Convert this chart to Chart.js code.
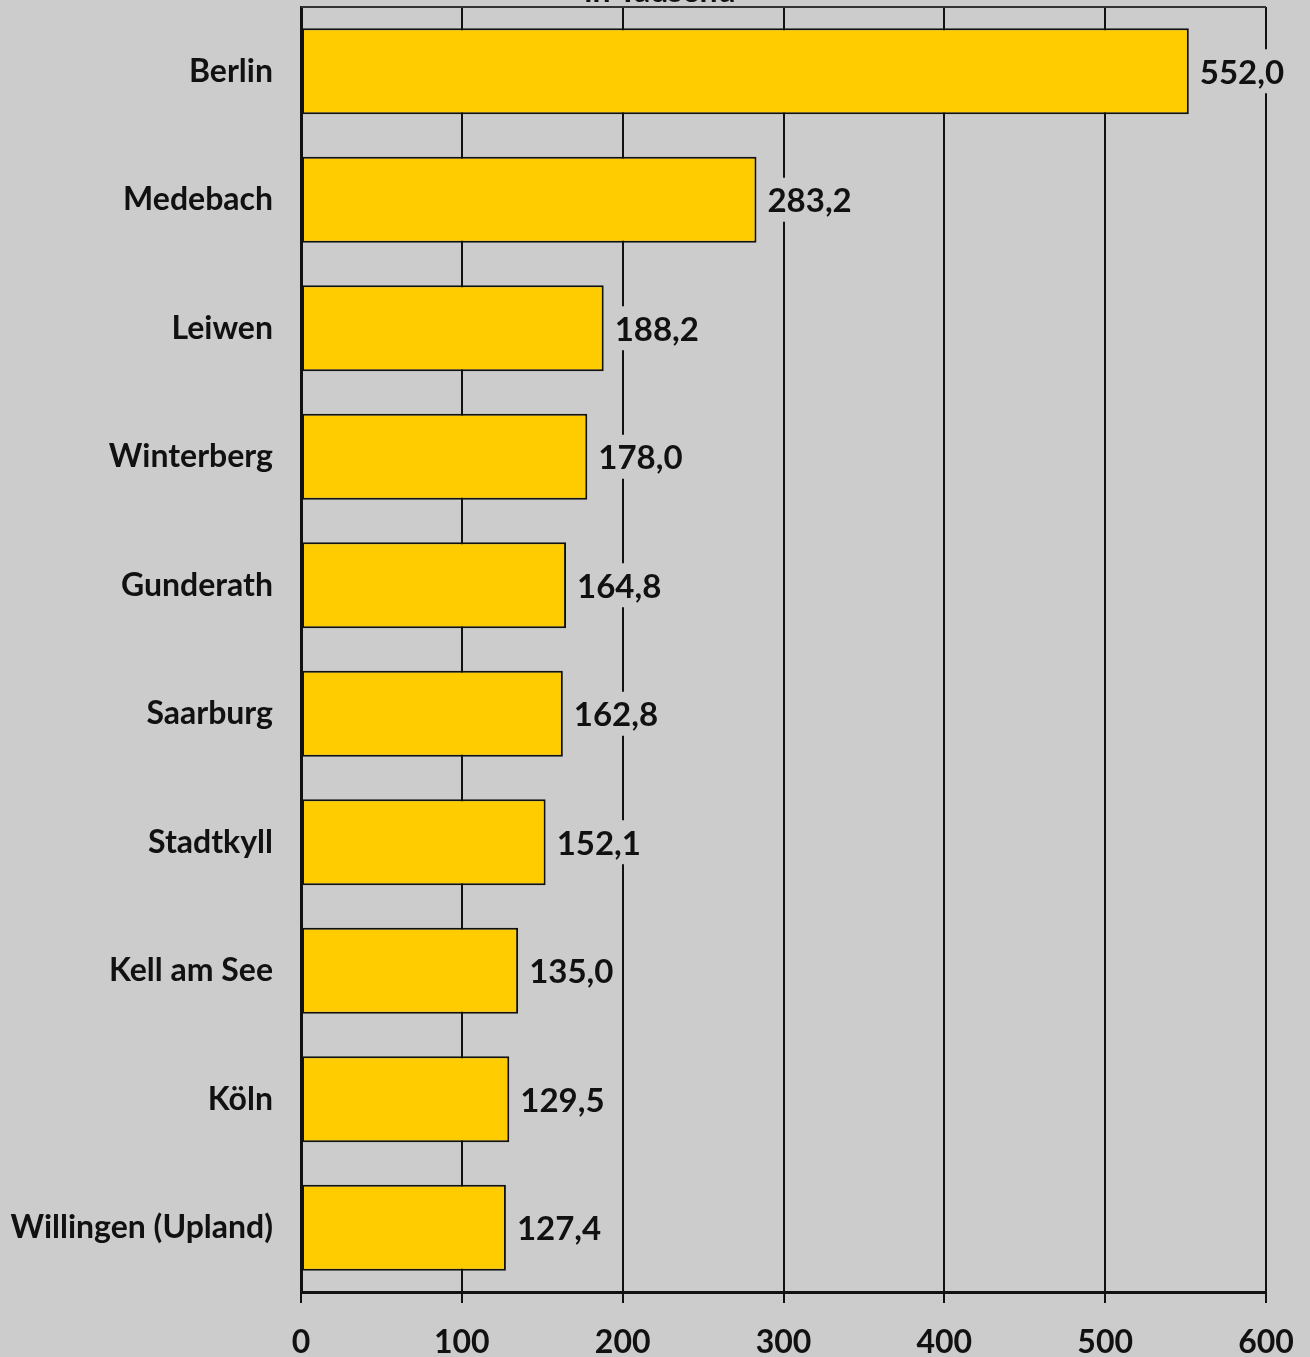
<!DOCTYPE html>
<html>
<head>
<meta charset="utf-8">
<script src="https://cdn.jsdelivr.net/npm/chart.js@4/dist/chart.umd.min.js"></script>
<style>
  html, body { margin: 0; padding: 0; background: #cccccc; }
  #wrap { width: 1310px; height: 1357px; }
</style>
</head>
<body>
<div id="wrap"><canvas id="chart" width="1310" height="1357"></canvas></div>
<script>
const categories = ['Berlin', 'Medebach', 'Leiwen', 'Winterberg', 'Gunderath', 'Saarburg', 'Stadtkyll', 'Kell am See', 'Köln', 'Willingen (Upland)'];
const values = [552.0, 283.2, 188.2, 178.0, 164.8, 162.8, 152.1, 135.0, 129.5, 127.4];
const xTicks = [0, 100, 200, 300, 400, 500, 600];
const unitLabel = 'in Tausend';

const FONT = 'Lato';

// value labels with a grey box that hides the grid lines behind them
const valueLabels = {
  id: 'valueLabels',
  afterDatasetsDraw(chart) {
    const ctx = chart.ctx;
    const meta = chart.getDatasetMeta(0);
    ctx.save();
    ctx.font = `bold 33px ${FONT}`;
    ctx.textBaseline = 'middle';
    ctx.textAlign = 'left';
    meta.data.forEach((bar, i) => {
      const txt = values[i].toFixed(1).replace('.', ',');
      const x = bar.x + 11;
      const w = ctx.measureText(txt).width;
      ctx.fillStyle = '#cccccc';
      ctx.fillRect(x - 2, bar.y - 22, w + 4, 44);
      ctx.fillStyle = '#111';
      ctx.fillText(txt, x, bar.y + 2);
    });
    ctx.restore();
  }
};

const frame = {
  id: 'frame',
  beforeDatasetsDraw(chart) {
    const { ctx, chartArea: a } = chart;
    ctx.save();
    ctx.strokeStyle = '#333';
    ctx.lineWidth = 2;
    ctx.beginPath();
    ctx.moveTo(a.left, a.top);
    ctx.lineTo(a.right, a.top);
    ctx.stroke();
    ctx.fillStyle = '#111';
    ctx.font = `bold 32px ${FONT}`;
    ctx.textAlign = 'center';
    ctx.textBaseline = 'alphabetic';
    ctx.fillText(unitLabel, 660, 2);
    ctx.restore();
  }
};

new Chart(document.getElementById('chart'), {
  type: 'bar',
  data: {
    labels: categories,
    datasets: [{
      data: values,
      backgroundColor: '#ffcc00',
      borderColor: '#111',
      borderWidth: 2,
      borderSkipped: false,
      barPercentage: 0.67,
      categoryPercentage: 1
    }]
  },
  options: {
    indexAxis: 'y',
    responsive: false,
    animation: false,
    layout: { padding: { top: 7, right: 44, left: 0, bottom: 0 } },
    plugins: { legend: { display: false }, tooltip: { enabled: false } },
    scales: {
      x: {
        min: 0, max: 600,
        afterBuildTicks(scale) { scale.ticks = xTicks.map(v => ({ value: v })); },
        afterFit(scale) { scale.height = 65; scale.paddingLeft = 0; scale.paddingRight = 0; },
        grid: { color: '#111', lineWidth: 2, tickLength: 11, drawTicks: true },
        border: { color: '#111', width: 3 },
        ticks: { color: '#111', padding: 20, font: { family: FONT, size: 32, weight: 'bold' } }
      },
      y: {
        afterFit(scale) { scale.width = 301; scale.paddingTop = 0; scale.paddingBottom = 0; },
        grid: { display: false },
        border: { color: '#111', width: 3 },
        ticks: { color: '#111', padding: 20, font: { family: FONT, size: 32, weight: 'bold' } }
      }
    }
  },
  plugins: [frame, valueLabels]
});
</script>
</body>
</html>
